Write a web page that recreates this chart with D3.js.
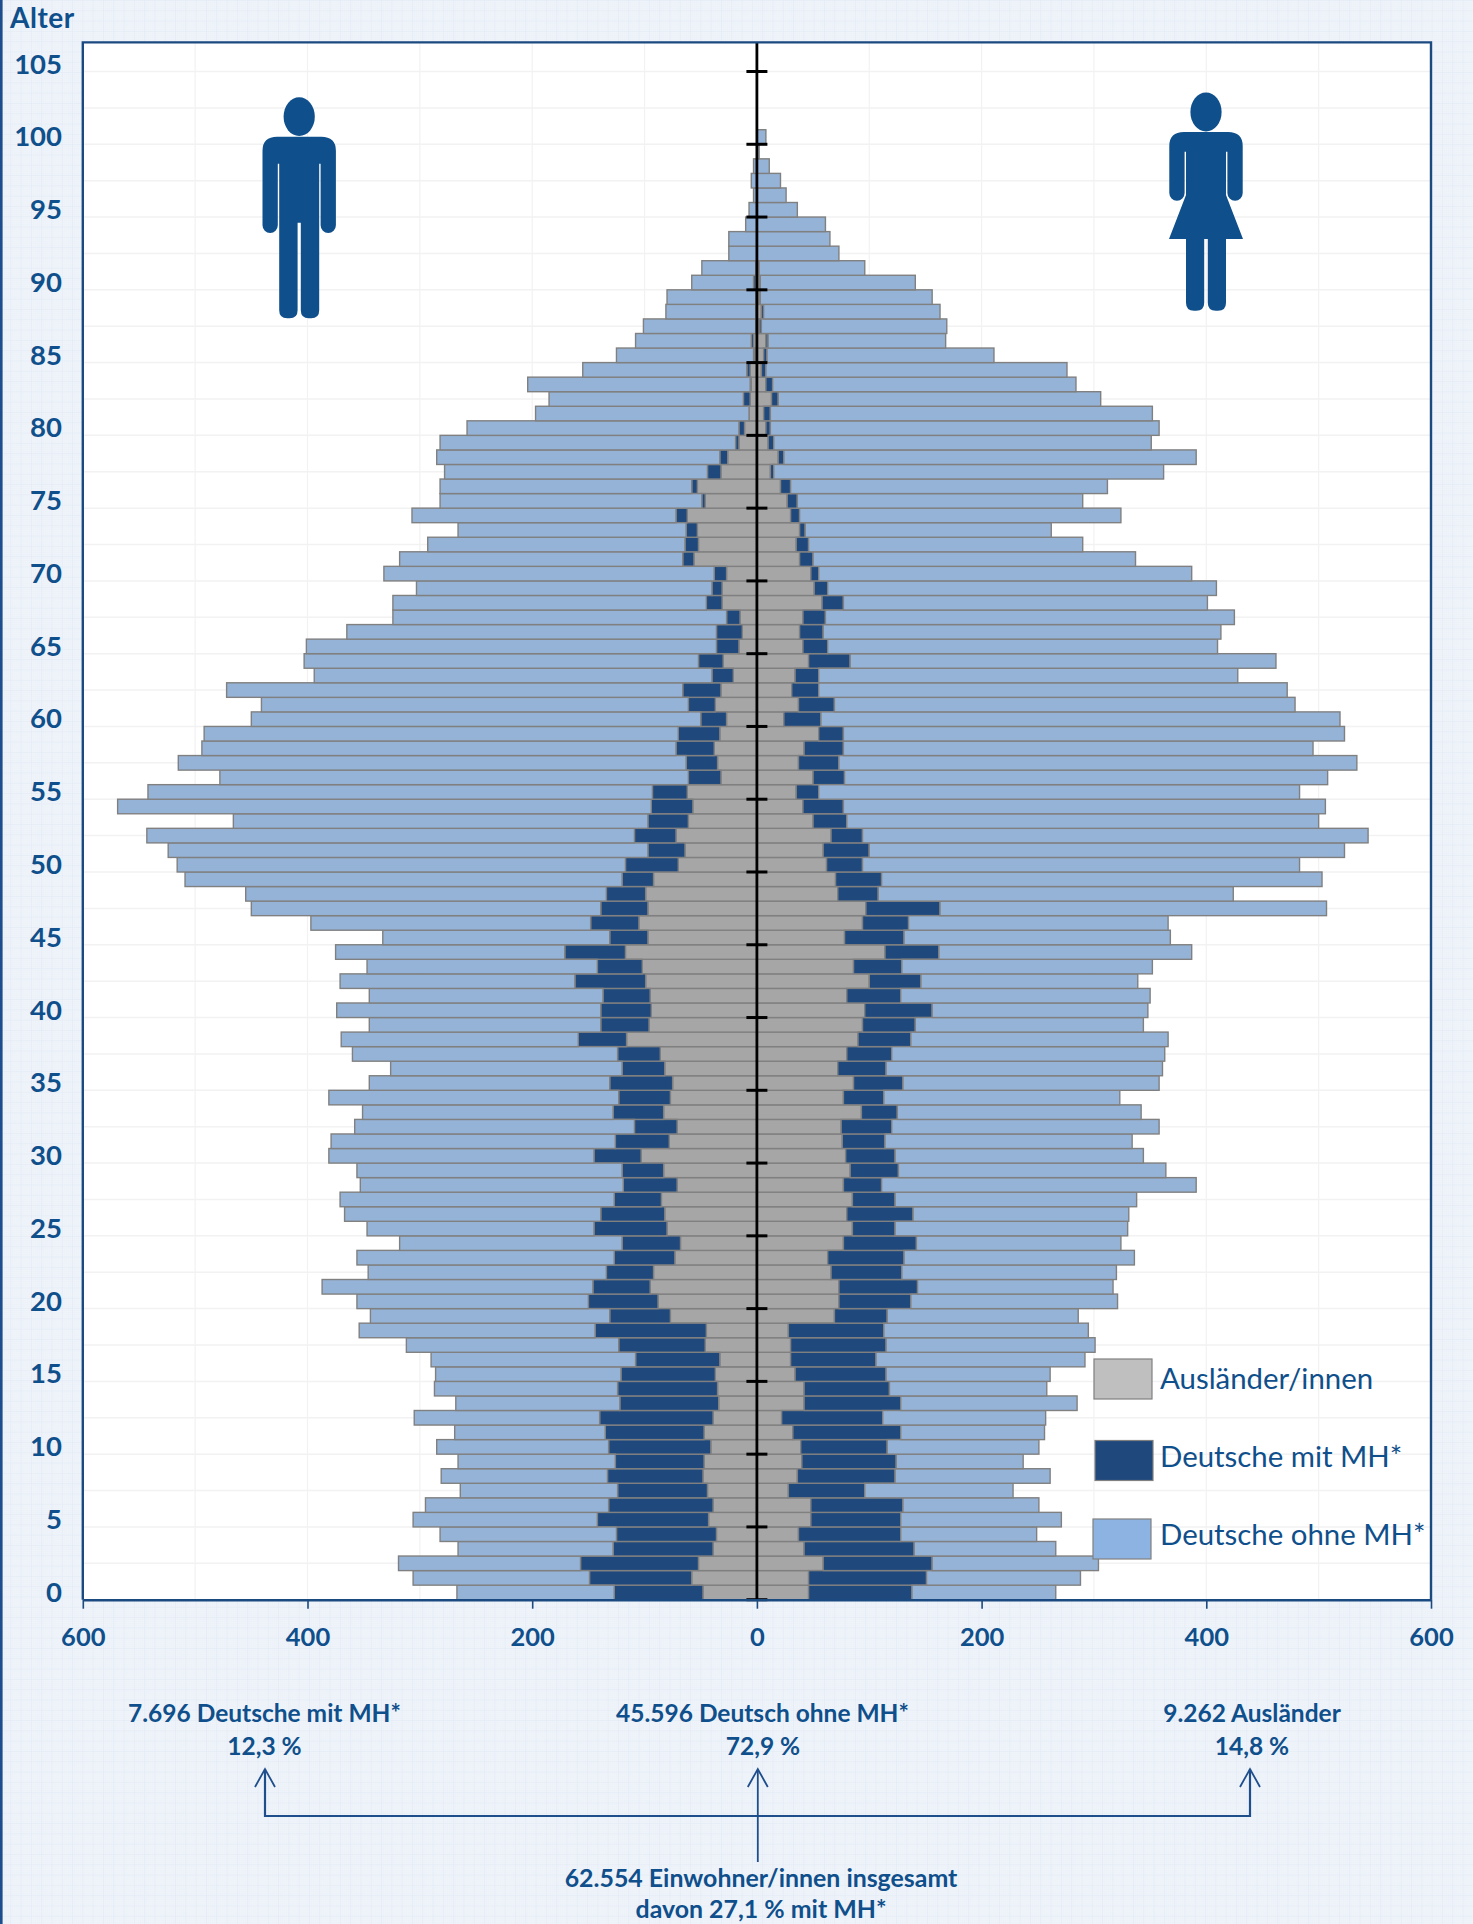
<!DOCTYPE html>
<html>
<head>
<meta charset="utf-8">
<script src="https://cdn.jsdelivr.net/npm/d3@7"></script>
<style>
  body { margin: 0; background: #edf2f9; }
  svg { display: block; }
  text { font-family: Lato, sans-serif; fill: #0f4f8b; }
</style>
</head>
<body>
<div id="chart"></div>
<script>
// values per age, index = age (0..100)
const maleAus = [48,58,52,39,36,43,39,44,48,47,
  41,47,39,34,35,37,33,46,45,77,
  88,95,92,73,68,80,82,85,71,83,
  103,78,71,83,77,75,82,86,116,96,
  94,95,99,102,117,97,105,97,99,92,
  70,64,72,61,57,62,32,35,38,33,
  27,37,32,21,30,16,13,15,31,31,
  27,56,52,53,62,46,53,32,26,16,
  11,7,6,5,6,2,3,1,1,1,
  1,1,0,0,0,0,0,0,0,0,0];
const maleMit = [79,91,105,89,89,99,93,80,85,79,
  91,88,101,88,89,84,75,77,99,54,
  62,51,42,54,52,65,57,42,48,37,
  42,48,38,45,46,56,38,38,43,43,
  45,42,63,40,54,34,43,42,35,28,
  47,33,37,36,37,31,29,28,34,37,
  23,24,34,19,22,20,23,12,14,9,
  11,10,12,10,10,3,5,12,7,3,
  5,0,6,1,3,1,2,0,0,0,
  2,0,0,0,0,0,0,0,0,0,0];
const maleOhne = [140,157,162,138,157,164,163,140,148,140,
  153,134,165,146,163,165,182,189,210,213,
  206,241,212,229,198,202,228,244,234,236,
  236,253,249,223,258,214,206,236,211,206,
  235,208,209,205,204,202,249,311,321,389,
  399,427,434,369,475,449,417,452,422,422,
  400,380,406,354,351,365,329,297,279,263,
  294,252,229,203,235,233,224,234,252,263,
  242,190,173,198,146,122,103,100,80,79,
  55,48,25,25,10,7,3,5,3,0,0];
const femaleAus = [46,46,59,42,37,48,48,28,36,40,
  39,32,22,42,42,34,30,30,28,69,
  73,73,66,63,77,85,80,85,77,83,
  79,76,75,93,77,86,72,80,90,94,
  96,80,100,86,114,78,94,97,72,70,
  62,59,66,50,41,35,50,37,42,55,
  24,37,31,34,46,41,38,41,58,51,
  48,38,35,38,30,27,21,12,19,10,
  8,6,13,8,4,6,8,2,4,2,
  2,1,0,0,0,0,0,0,0,0,0];
const femaleMit = [92,105,97,98,91,80,82,68,87,84,
  77,96,90,86,76,81,76,85,85,47,
  64,70,63,68,65,38,59,38,34,43,
  44,38,45,32,36,44,43,40,47,47,
  60,48,46,43,48,53,41,66,36,41,
  32,41,28,30,36,20,28,36,35,22,
  33,32,24,21,37,22,21,20,19,12,
  7,12,11,5,8,9,9,3,5,5,
  4,6,6,6,4,3,2,2,2,1,
  1,1,0,0,0,0,0,0,0,0,0];
const femaleOhne = [128,137,148,126,121,143,121,132,138,113,
  135,128,145,157,140,146,186,186,182,170,
  184,174,191,205,182,207,192,215,280,238,
  221,220,238,217,210,228,246,243,229,203,
  192,222,193,223,225,237,231,344,316,392,
  389,423,450,420,429,428,430,461,418,446,
  462,410,417,373,379,347,354,364,324,346,
  332,287,244,219,286,254,282,347,367,336,
  346,340,287,270,268,202,158,165,157,153,
  138,94,73,65,61,36,26,21,11,2,8];

const keys = ['aus', 'mit', 'ohne'];
const legendLabels = ['Ausländer/innen', 'Deutsche mit MH*', 'Deutsche ohne MH*'];
const ageTicks = d3.range(0, 106, 5);
const xTicks = [-600, -400, -200, 0, 200, 400, 600];

const colors = { aus: '#a6a6a6', mit: '#1f497d', ohne: '#95b3d7' };
const legendColors = { aus: '#bfbfbf', mit: '#1f497d', ohne: '#8db3e2' };
const blue = '#0f4f8b';
const frameBlue = '#1a4a80';

const width = 1473, height = 1924;
const plot = { left: 82.8, right: 1431, top: 42.4, bottom: 1599.7 };

const svg = d3.select('#chart').append('svg')
  .attr('width', width)
  .attr('height', height);

// squared paper background
const defs = svg.append('defs');
const minor = defs.append('pattern').attr('id', 'paperMinor')
  .attr('width', 2.06).attr('height', 2.06).attr('patternUnits', 'userSpaceOnUse');
minor.append('path').attr('d', 'M2.06 0H0V2.06').attr('fill', 'none').attr('stroke', '#e9eff7').attr('stroke-width', 0.6);
const major = defs.append('pattern').attr('id', 'paperMajor')
  .attr('width', 10.3).attr('height', 10.3).attr('patternUnits', 'userSpaceOnUse');
major.append('path').attr('d', 'M10.3 0H0V10.3').attr('fill', 'none').attr('stroke', '#e1e9f4').attr('stroke-width', 1);

svg.append('rect').attr('width', width).attr('height', height).attr('fill', '#eff4fa');
svg.append('rect').attr('width', width).attr('height', height).attr('fill', 'url(#paperMinor)');
svg.append('rect').attr('width', width).attr('height', height).attr('fill', 'url(#paperMajor)');
svg.append('rect').attr('x', 0).attr('y', 0).attr('width', 2.6).attr('height', height).attr('fill', '#1f4e8c');

const x = d3.scaleLinear().domain([-600, 600]).range([plot.left, plot.right]);
// one band per year, 0 at the bottom; ticks sit on the lower edge of the band
const y = d3.scaleBand().domain(d3.range(106, -1, -1)).range([plot.top, plot.bottom]);
const yLine = d3.scaleLinear().domain([0, 107]).range([plot.bottom, plot.top]);

svg.append('rect')
  .attr('x', plot.left).attr('y', plot.top)
  .attr('width', plot.right - plot.left).attr('height', plot.bottom - plot.top)
  .attr('fill', '#fff');

// grid
const grid = svg.append('g').attr('stroke', '#f2f2f2').attr('fill', 'none');
grid.selectAll('line.v').data(d3.range(-500, 600, 100)).enter().append('line')
  .attr('class', 'v')
  .attr('x1', d => x(d)).attr('x2', d => x(d))
  .attr('y1', plot.top).attr('y2', plot.bottom)
  .attr('stroke-width', 1.2);
grid.selectAll('line.h').data(d3.range(2.5, 107, 2.5)).enter().append('line')
  .attr('class', 'h')
  .attr('x1', plot.left).attr('x2', plot.right)
  .attr('y1', d => yLine(d)).attr('y2', d => yLine(d))
  .attr('stroke-width', 1.5);

function rowsFor(aus, mit, ohne) {
  return aus.map((v, i) => ({ age: i, aus: v, mit: mit[i], ohne: ohne[i] }));
}

function drawSide(rows, sign) {
  const series = d3.stack().keys(keys)(rows);
  const g = svg.append('g');
  series.forEach(layer => {
    g.append('g')
      .attr('fill', colors[layer.key])
      .attr('stroke', '#808080')
      .attr('stroke-width', 1.4)
      .selectAll('rect')
      .data(layer.filter(d => d[1] > d[0]))
      .enter().append('rect')
      .attr('x', d => sign > 0 ? x(d[0]) : x(-d[1]))
      .attr('y', d => y(d.data.age))
      .attr('width', d => x(d[1]) - x(d[0]))
      .attr('height', y.bandwidth());
  });
}

drawSide(rowsFor(maleAus, maleMit, maleOhne), -1);
drawSide(rowsFor(femaleAus, femaleMit, femaleOhne), 1);

// black centre line with age ticks
svg.append('line')
  .attr('x1', x(0)).attr('x2', x(0))
  .attr('y1', plot.top).attr('y2', plot.bottom)
  .attr('stroke', '#000').attr('stroke-width', 2.8);
svg.append('g').selectAll('line').data(ageTicks).enter().append('line')
  .attr('x1', x(0) - 10.5).attr('x2', x(0) + 10.5)
  .attr('y1', d => yLine(d)).attr('y2', d => yLine(d))
  .attr('stroke', '#000').attr('stroke-width', 3);

// frame
const frame = svg.append('g').attr('fill', 'none').attr('stroke', frameBlue);
frame.append('path')
  .attr('d', `M${plot.left},${plot.bottom}V${plot.top}H${plot.right}V${plot.bottom}`)
  .attr('stroke-width', 2.4);

// x axis
const xAxis = svg.append('g')
  .attr('transform', `translate(0,${plot.bottom})`)
  .call(d3.axisBottom(x).tickValues(xTicks).tickFormat(d => Math.abs(d)).tickSize(9).tickPadding(19).tickSizeOuter(0));
xAxis.select('.domain').attr('stroke', frameBlue).attr('stroke-width', 2.6);
xAxis.selectAll('.tick line').attr('stroke', frameBlue).attr('stroke-width', 1.6);
xAxis.selectAll('text').attr('font-size', 25.5).attr('font-weight', 700)
  .style('font-family', 'Lato, sans-serif').style('fill', blue);

// age labels
const yAxis = svg.append('g')
  .attr('transform', 'translate(62,0.5)')
  .call(d3.axisLeft(y).tickValues(ageTicks).tickSize(0).tickPadding(0));
yAxis.select('.domain').remove();
yAxis.selectAll('text').attr('font-size', 27.5).attr('font-weight', 700)
  .style('font-family', 'Lato, sans-serif').style('fill', blue);

svg.append('text')
  .attr('x', 10).attr('y', 28)
  .attr('font-size', 28).attr('font-weight', 700)
  .attr('letter-spacing', 0.5)
  .text('Alter');

// figures
function figure(cx, top, d) {
  const g = svg.append('g').attr('transform', `translate(${cx},${top})`).attr('fill', blue);
  g.append('ellipse').attr('cx', 0).attr('cy', -20).attr('rx', 15.6).attr('ry', 19.4);
  g.append('path').attr('d', d);
}
figure(299.2, 136.7,
  'M-36.7,14Q-36.7,0-22,0H22Q36.7,0 36.7,14V88.6a7.65,7.65 0 0 1-15.3,0V27H20V173.6Q20,181.6 12,181.6H9.6Q1.6,181.6 1.6,173.6V86H-1.6V173.6Q-1.6,181.6-9.6,181.6H-12Q-20,181.6-20,173.6V27H-21.4V88.6a7.65,7.65 0 0 1-15.3,0Z');
figure(1206, 132,
  'M-36.7,14Q-36.7,0-22,0H22Q36.7,0 36.7,14V61a7.65,7.65 0 0 1-15.3,0V19.7H20V63L37,107H20V170.7Q20,178.7 12,178.7H9.8Q1.8,178.7 1.8,170.7V107H-1.8V170.7Q-1.8,178.7-9.8,178.7H-12Q-20,178.7-20,170.7V107H-37L-20,63V19.7H-21.4V61a7.65,7.65 0 0 1-15.3,0Z');

// legend
const legendBoxX = { aus: 1094, mit: 1095, ohne: 1093 };
const legendBoxY = { aus: 1359, mit: 1440.5, ohne: 1519 };
const legendTextY = { aus: 1389, mit: 1467, ohne: 1545 };
const legend = svg.append('g');
keys.forEach((k, i) => {
  legend.append('rect')
    .attr('x', legendBoxX[k]).attr('y', legendBoxY[k])
    .attr('width', 58).attr('height', 40)
    .attr('fill', legendColors[k])
    .attr('stroke', '#808080').attr('stroke-width', 1.2);
  legend.append('text')
    .attr('x', 1160).attr('y', legendTextY[k])
    .attr('font-size', 29.4)
    .text(legendLabels[i]);
});

// totals under the chart
const notes = [
  { x: 264.5, y: 1722, t: '7.696 Deutsche mit MH*', s: 24.5 },
  { x: 264.5, y: 1755, t: '12,3 %', s: 24.5 },
  { x: 762.5, y: 1722, t: '45.596 Deutsch ohne MH*', s: 24.5 },
  { x: 763, y: 1755, t: '72,9 %', s: 24.5 },
  { x: 1252, y: 1722, t: '9.262 Ausländer', s: 24.5 },
  { x: 1252, y: 1755, t: '14,8 %', s: 24.5 },
  { x: 761, y: 1887, t: '62.554 Einwohner/innen insgesamt', s: 24.9 },
  { x: 761, y: 1918, t: 'davon 27,1 % mit MH*', s: 24.9 }
];
svg.append('g').selectAll('text').data(notes).enter().append('text')
  .attr('x', d => d.x).attr('y', d => d.y)
  .attr('text-anchor', 'middle')
  .attr('font-size', d => d.s).attr('font-weight', 700)
  .text(d => d.t);

const arrows = svg.append('g').attr('fill', 'none').attr('stroke', '#1f4e8c').attr('stroke-width', 1.8);
arrows.append('path').attr('d', 'M265,1769V1816H1250V1769').attr('stroke-width', 2.2);
arrows.append('path').attr('d', 'M757.8,1770V1862');
[265, 757.8, 1250].forEach(ax => {
  arrows.append('path').attr('d', `M${ax - 10},1787L${ax},1769L${ax + 10},1787`);
});
</script>
</body>
</html>
